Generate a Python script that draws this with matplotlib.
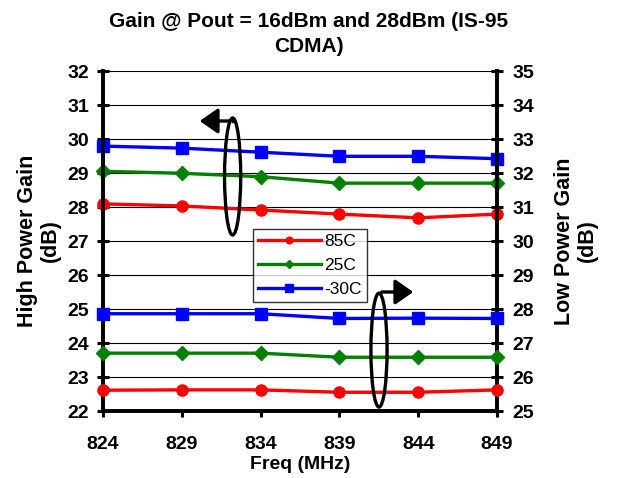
import matplotlib
matplotlib.use("Agg")
import matplotlib.pyplot as plt
from matplotlib.patches import Ellipse, FancyArrowPatch

plt.rcParams['font.family'] = ['Liberation Sans', 'DejaVu Sans']

freq = [824, 829, 834, 839, 844, 849]
series_names = ["85C", "25C", "-30C"]
colors = ["#FF0000", "#008000", "#0000FF"]
markers = ["o", "D", "s"]
msizes = [8, 7, 8.5]

# High power gain (left axis, dB)
high_85 = [28.1, 28.04, 27.92, 27.8, 27.69, 27.8]
high_25 = [29.06, 29.0, 28.9, 28.71, 28.71, 28.71]
high_m30 = [29.8, 29.74, 29.62, 29.5, 29.5, 29.43]
# Low power gain (right axis, dB)
low_85 = [25.62, 25.63, 25.63, 25.56, 25.56, 25.63]
low_25 = [26.71, 26.71, 26.71, 26.59, 26.59, 26.59]
low_m30 = [27.87, 27.87, 27.87, 27.73, 27.74, 27.73]

left_ticks = list(range(22, 33))
right_ticks = list(range(25, 36))
x_ticks = freq

fig = plt.figure(figsize=(6.17, 4.78), dpi=100)
ax = fig.add_axes([103/617, 1 - 411.3/478, 394/617, 340/478])
ax2 = ax.twinx()

highs = [high_85, high_25, high_m30]
lows = [low_85, low_25, low_m30]
handles = []
for name, c, m, ms, h, l in zip(series_names, colors, markers, msizes, highs, lows):
    ln, = ax.plot(freq, h, color=c, marker=m, markersize=ms, linewidth=2.4,
                  label=name, clip_on=False, zorder=5)
    ax2.plot(freq, l, color=c, marker=m, markersize=ms, linewidth=2.4,
             clip_on=False, zorder=5)
    handles.append(ln)

ax.set_xlim(824, 849)
ax.set_ylim(22, 32)
ax2.set_ylim(25, 35)
ax.set_xticks(x_ticks)
ax.set_yticks(left_ticks)
ax2.set_yticks(right_ticks)
ax.yaxis.grid(True, color='black', linewidth=0.8)
ax.set_axisbelow(True)

for a in (ax, ax2):
    a.spines['top'].set_visible(False)
    a.spines['left'].set_linewidth(2.6)
    a.spines['right'].set_linewidth(2.6)
    a.spines['bottom'].set_linewidth(2.6)

ax.tick_params(axis='y', direction='inout', length=8, width=2.2, pad=6,
               labelsize=14)
ax2.tick_params(axis='y', direction='inout', length=8, width=2.2, pad=7,
                labelsize=14)
ax.tick_params(axis='x', direction='out', length=4, width=2.2, pad=14,
               labelsize=14)
for lab in ax.get_xticklabels() + ax.get_yticklabels() + ax2.get_yticklabels():
    lab.set_fontweight('bold')

ax.set_xlabel("Freq (MHz)", fontsize=14, fontweight='bold', labelpad=2)

fig.text(309/617, 1 - 34/478, "Gain @ Pout = 16dBm and 28dBm (IS-95\nCDMA)",
         ha='center', va='center', fontsize=15, fontweight='bold',
         linespacing=1.4)
fig.text(39/617, 1 - 241/478, "High Power Gain\n(dB)", rotation=90,
         ha='center', va='center', fontsize=15.5, fontweight='bold',
         linespacing=1.15)
fig.text(576/617, 1 - 241/478, "Low Power Gain\n(dB)", rotation=90,
         ha='center', va='center', fontsize=15.5, fontweight='bold',
         linespacing=1.15)

leg = ax2.legend(handles, series_names, loc='upper left',
                 bbox_to_anchor=((253 - 103)/394, (411.3 - 229)/340),
                 fontsize=12.5, frameon=True, fancybox=False, edgecolor='black',
                 handlelength=3.6, handletextpad=0.2, borderpad=0.3,
                 labelspacing=0.5, markerscale=0.6, borderaxespad=0)
leg.get_frame().set_linewidth(1.0)
leg.set_zorder(10)

# Axis-assignment annotations (ellipses with arrows)
e1 = Ellipse((0.329, 0.6906), 0.041, 0.344, transform=ax.transAxes,
             fill=False, edgecolor='black', linewidth=2.4, zorder=8, clip_on=False)
e2 = Ellipse((0.7005, 0.180), 0.041, 0.335, transform=ax.transAxes,
             fill=False, edgecolor='black', linewidth=2.4, zorder=8, clip_on=False)
ax2.add_patch(e1)
ax2.add_patch(e2)
ax2.plot([(233 - 103)/394, (233 - 103)/394], [(411.3 - 121)/340, (411.3 - 119)/340],
         transform=ax.transAxes, color='black', linewidth=2.4, zorder=8, clip_on=False)
a1 = FancyArrowPatch(((233 - 103)/394, (411.3 - 121)/340), ((197 - 103)/394, (411.3 - 121)/340),
                     transform=ax.transAxes, arrowstyle='-|>,head_length=5,head_width=3.5',
                     mutation_scale=2.2, color='black', linewidth=2.4, zorder=8)
a2 = FancyArrowPatch(((379 - 103)/394, (411.3 - 292)/340), ((416 - 103)/394, (411.3 - 292)/340),
                     transform=ax.transAxes, arrowstyle='-|>,head_length=5,head_width=3.5',
                     mutation_scale=2.2, color='black', linewidth=2.4, zorder=8)
ax2.add_patch(a1)
ax2.add_patch(a2)

fig.savefig("out.png", dpi=100)
